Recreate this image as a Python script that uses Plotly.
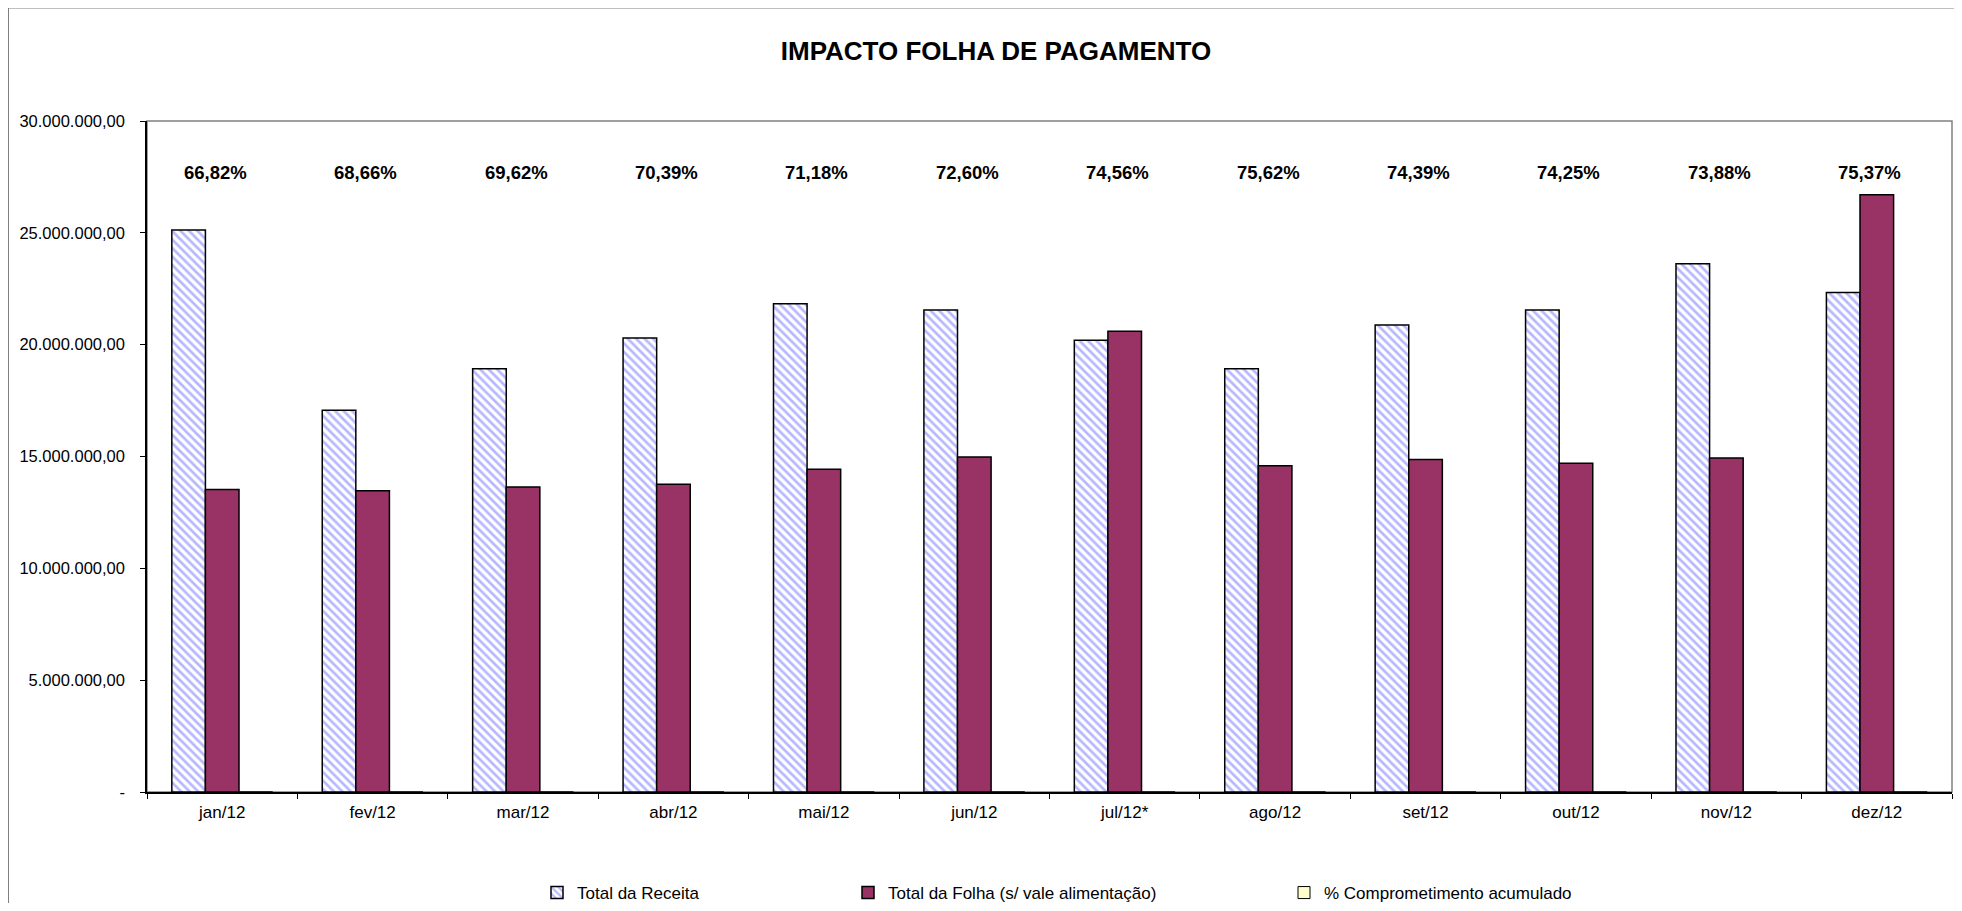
import plotly.graph_objects as go

categories = ["jan/12", "fev/12", "mar/12", "abr/12", "mai/12", "jun/12",
              "jul/12*", "ago/12", "set/12", "out/12", "nov/12", "dez/12"]
receita = [25.13e6, 17.07e6, 18.92e6, 20.30e6, 21.83e6, 21.55e6,
           20.20e6, 18.92e6, 20.88e6, 21.55e6, 23.62e6, 22.33e6]
folha = [13.52e6, 13.47e6, 13.64e6, 13.76e6, 14.43e6, 14.98e6,
         20.60e6, 14.59e6, 14.87e6, 14.70e6, 14.93e6, 26.70e6]
comprometimento = [0.6682, 0.6866, 0.6962, 0.7039, 0.7118, 0.7260,
                   0.7456, 0.7562, 0.7439, 0.7425, 0.7388, 0.7537]
y_tickvals = [0, 5e6, 10e6, 15e6, 20e6, 25e6, 30e6]
y_ticktext = ["-", "5.000.000,00", "10.000.000,00", "15.000.000,00",
              "20.000.000,00", "25.000.000,00", "30.000.000,00"]

FONT = "Arial, 'Liberation Sans', sans-serif"
OFF = 8  # page body margin
W, H = 1962 - 2 * OFF, 911 - 2 * OFF
# plot area in screen pixels: x 147..1952, y 121..792
L = 147 - OFF
R = W - (1952 - OFF)
T = 121 - OFF
B = H - (792 - OFF)
PW, PH = W - L - R, H - T - B

def sx(px):  # screen px -> paper x
    return (px - OFF - L) / PW

def sy(py):  # screen px -> paper y
    return (792 - py) / PH

fig = go.Figure()
fig.add_trace(go.Bar(
    x=categories, y=receita, name="Total da Receita",
    marker=dict(color="white",
                pattern=dict(shape="\\", fgcolor="#7070FF", bgcolor="white",
                             size=6, solidity=0.45),
                line=dict(color="black", width=1.5)),
    legend="legend",
))
fig.add_trace(go.Bar(
    x=categories, y=folha, name="Total da Folha (s/ vale alimentação)",
    marker=dict(color="#993366", line=dict(color="black", width=1.5)),
    legend="legend2",
))
fig.add_trace(go.Bar(
    x=categories, y=comprometimento, name="% Comprometimento acumulado",
    marker=dict(color="#FFFFCC", line=dict(color="black", width=1)),
    legend="legend3",
))

label_level = 27.7e6
for cat, p in zip(categories, comprometimento):
    txt = f"{p*100:.2f}".replace(".", ",") + "%"
    fig.add_annotation(x=cat, y=label_level, text=f"<b>{txt}</b>", showarrow=False,
                       xshift=-7, font=dict(family=FONT, size=18.5, color="black"))

# plot-area border (gray) and chart-area border
fig.add_shape(type="rect", xref="paper", yref="paper", x0=0, x1=1, y0=0, y1=1,
              line=dict(color="#808080", width=1.5), layer="below")
fig.add_shape(type="line", xref="paper", yref="paper",
              x0=sx(7.5), x1=sx(7.5), y0=sy(7.5), y1=sy(960),
              line=dict(color="black", width=2))
fig.add_shape(type="line", xref="paper", yref="paper",
              x0=sx(7.5), x1=sx(2000), y0=sy(7.5), y1=sy(7.5),
              line=dict(color="#808080", width=2))

leg_common = dict(orientation="h", xref="container", yref="container",
                  yanchor="middle", xanchor="left", y=(911 - OFF - 893) / H,
                  font=dict(family=FONT, size=17, color="black"),
                  bgcolor="rgba(0,0,0,0)", itemwidth=30, visible=True)

fig.update_layout(
    width=W, height=H,
    margin=dict(l=L, r=R, t=T, b=B, autoexpand=False),
    paper_bgcolor="white", plot_bgcolor="white",
    showlegend=True,
    barmode="group", bargap=0.33, bargroupgap=0,
    title=dict(text="<b>IMPACTO FOLHA DE PAGAMENTO</b>", x=(996 - OFF) / W,
               xanchor="center", y=1 - (50.5 - OFF) / H, yanchor="middle",
               font=dict(family=FONT, size=26, color="black")),
    font=dict(family=FONT, color="black"),
    legend=dict(leg_common, x=(603 - 24 - OFF - 42) / W),
    legend2=dict(leg_common, x=(892 - 2 - OFF - 42) / W),
    legend3=dict(leg_common, x=(1327 - 1 - OFF - 42) / W),
    xaxis=dict(type="category", showgrid=False, showline=True, linecolor="black",
               linewidth=1.5, ticks="outside", tickson="boundaries", ticklen=5,
               tickcolor="black", ticklabelstandoff=4,
               tickfont=dict(family=FONT, size=17, color="black"),
               range=[-0.5, 11.5]),
    yaxis=dict(range=[0, 30e6], tickvals=y_tickvals, ticktext=y_ticktext,
               showgrid=False, showline=True, linecolor="black", linewidth=1.5,
               ticks="outside", ticklen=5, tickcolor="black", zeroline=False,
               ticklabelstandoff=12,
               tickfont=dict(family=FONT, size=16.5, color="black")),
)

fig.write_html("out.html")
